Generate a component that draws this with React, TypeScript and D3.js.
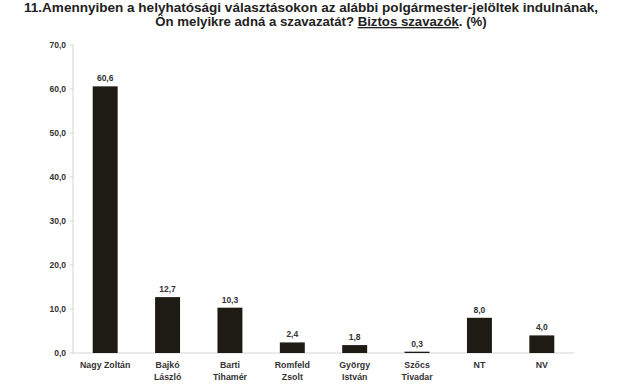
import React from "react";
import * as d3 from "d3";

const categories = ["Nagy Zoltán", "Bajkó\nLászló", "Barti\nTihamér", "Romfeld\nZsolt", "György\nIstván", "Szőcs\nTivadar", "NT", "NV"];
const values = [60.6, 12.7, 10.3, 2.4, 1.8, 0.3, 8.0, 4.0];
const yTicks = [0, 10, 20, 30, 40, 50, 60, 70];

const fmt = (v: number) => v.toFixed(1).replace(".", ",");

export default function App() {
  const W = 620, H = 385;
  const x0 = 73, x1 = 574, y0 = 353, y1 = 45;
  const x = d3.scaleBand<string>().domain(categories).range([74, 573]).paddingInner(0.6).paddingOuter(0.3);
  const y = d3.scaleLinear().domain([0, 70]).range([y0, y1]);
  const font = "'Liberation Sans', Arial, sans-serif";
  return (
    <svg width={W} height={H} style={{ position: "absolute", left: 0, top: 0, background: "#fff" }} fontFamily={font}>
      <text x={311} y={12} textAnchor="middle" fontSize={13.2} fontWeight="bold" fill="#222" textLength={574} lengthAdjust="spacingAndGlyphs">
        11.Amennyiben a helyhatósági választásokon az alábbi polgármester-jelöltek indulnának,
      </text>
      <text x={321} y={26} textAnchor="middle" fontSize={13.2} fontWeight="bold" fill="#222">
        Ön melyikre adná a szavazatát? <tspan textDecoration="underline">Biztos szavazók</tspan>. (%)
      </text>
      <line x1={x0} x2={x0} y1={y1} y2={y0} stroke="#d4d4d4" strokeWidth={1} />
      <line x1={x0} x2={x1} y1={y0} y2={y0} stroke="#d4d4d4" strokeWidth={1} />
      {yTicks.map((t) => (
        <g key={t}>
          <line x1={x0 - 3} x2={x0} y1={y(t)} y2={y(t)} stroke="#d4d4d4" />
          <text x={66} y={y(t) + 3} textAnchor="end" fontSize={8.5} fontWeight="bold" fill="#333">{fmt(t)}</text>
        </g>
      ))}
      {categories.map((c, i) => {
        const v = values[i];
        const bx = x(c)!;
        const bw = x.bandwidth();
        const cx = bx + bw / 2;
        const lines = c.split("\n");
        return (
          <g key={c}>
            <rect x={bx} y={y(v)} width={bw} height={y0 - y(v)} fill="#1e1a14" />
            <text x={cx} y={y(v) - 5} textAnchor="middle" fontSize={8.5} fontWeight="bold" fill="#333">{fmt(v)}</text>
            {lines.map((l, j) => (
              <text key={j} x={cx} y={368 + j * 12} textAnchor="middle" fontSize={8.8} fontWeight="bold" fill="#333">{l}</text>
            ))}
          </g>
        );
      })}
    </svg>
  );
}
